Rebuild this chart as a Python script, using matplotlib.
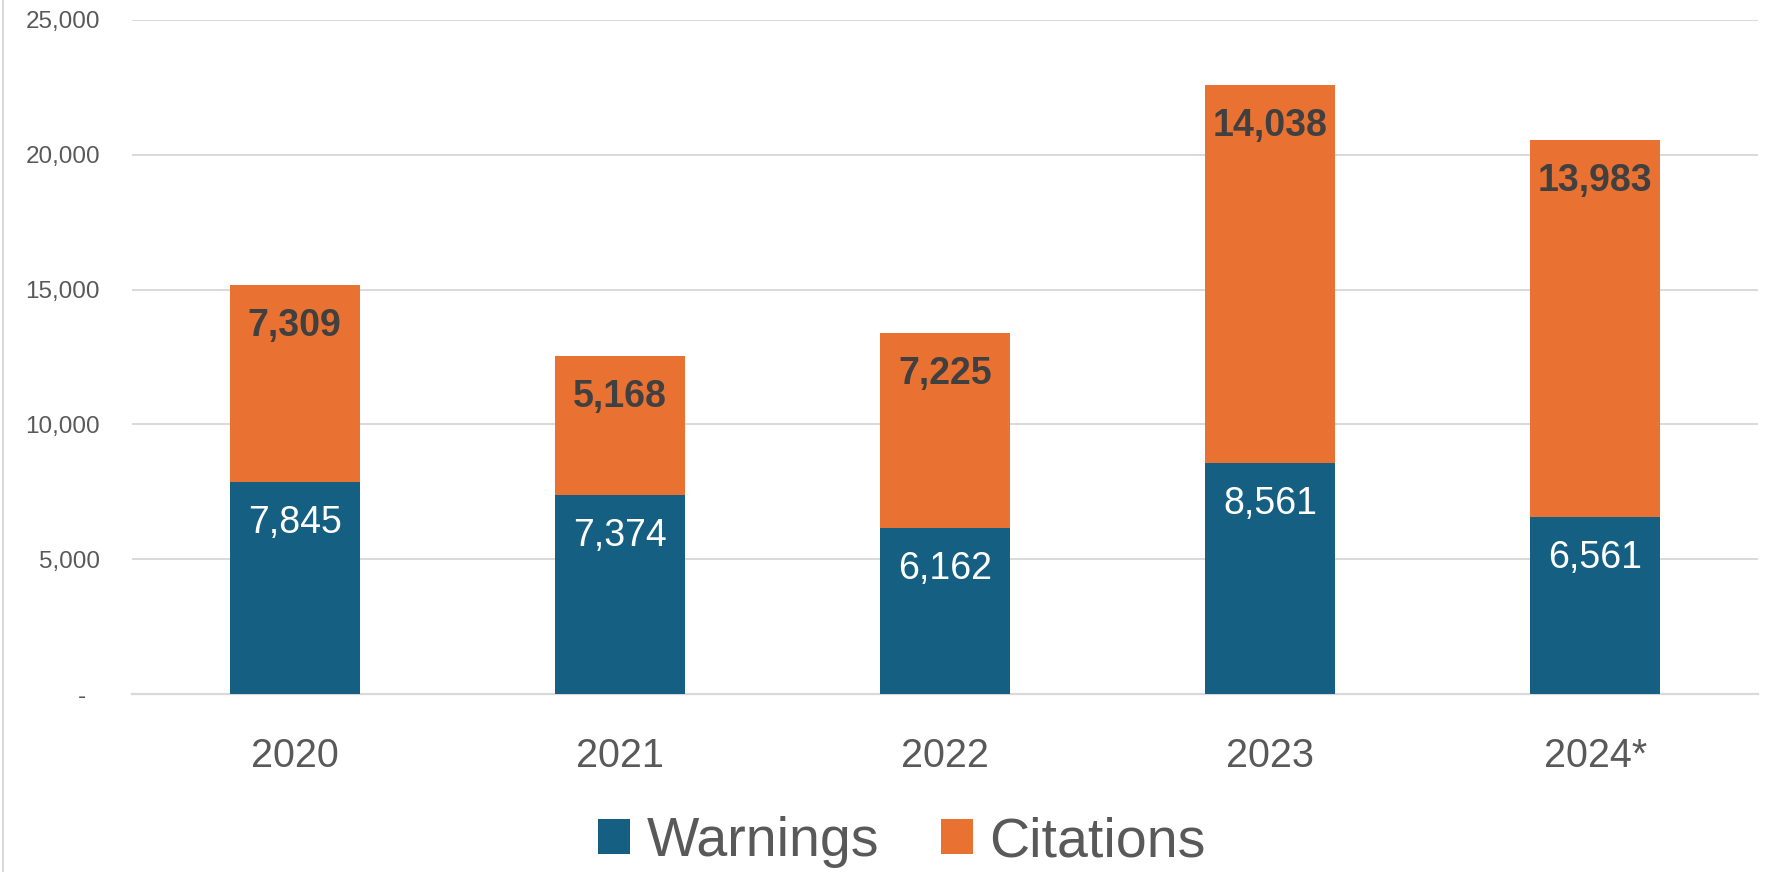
import matplotlib
matplotlib.use("Agg")
import matplotlib.pyplot as plt
from matplotlib.lines import Line2D
from matplotlib.ticker import FuncFormatter
import numpy as np

years = ["2020", "2021", "2022", "2023", "2024*"]
warnings = [7845, 7374, 6162, 8561, 6561]
citations = [7309, 5168, 7225, 14038, 13983]
series_names = ["Warnings", "Citations"]

BLUE = "#156082"
ORANGE = "#E97132"
GRID = "#D9D9D9"
TXT = "#595959"
DARK = "#404040"

plt.rcParams["font.family"] = ["Liberation Sans", "DejaVu Sans"]

W, H, DPI = 1780, 872, 100
fig = plt.figure(figsize=(W / DPI, H / DPI), dpi=DPI)
PX = 72.0 / DPI  # points per pixel

ax = fig.add_axes([132 / W, (H - 694) / H, (1758 - 132) / W, (694 - 20) / H])

x = np.arange(len(years))
bw = 0.4
b1 = ax.bar(x, warnings, bw, color=BLUE, label=series_names[0], zorder=3)
b2 = ax.bar(x, citations, bw, bottom=warnings, color=ORANGE, label=series_names[1], zorder=3)

ax.set_xlim(-0.5, len(years) - 0.5)
ax.set_ylim(0, 25000)
ax.set_yticks(np.arange(0, 25001, 5000))
ax.yaxis.set_major_formatter(FuncFormatter(lambda v, p: "-  " if v == 0 else f"{v:,.0f}"))
ax.set_xticks(x)
ax.set_xticklabels(years)

ax.grid(axis="y", color=GRID, linewidth=1.4, zorder=0)
for s in ["top", "right", "left"]:
    ax.spines[s].set_visible(False)
ax.spines["bottom"].set_color(GRID)
ax.spines["bottom"].set_linewidth(1.6)
ax.spines["bottom"].set_zorder(2)

ax.tick_params(axis="y", length=0, pad=32 * PX, labelsize=17.5, labelcolor=TXT)
ax.tick_params(axis="x", length=0, pad=43 * PX, labelsize=28.5, labelcolor=TXT)

off = -51 * PX
for i in range(len(years)):
    ax.annotate(f"{warnings[i]:,}", xy=(x[i], warnings[i]), xytext=(0, off),
                textcoords="offset points", ha="center", va="baseline",
                fontsize=27, color="white", zorder=5)
    top = warnings[i] + citations[i]
    ax.annotate(f"{citations[i]:,}", xy=(x[i], top), xytext=(0, off),
                textcoords="offset points", ha="center", va="baseline",
                fontsize=27, fontweight="bold", color=DARK, zorder=5)

leg = fig.legend(handles=[b1, b2], labels=series_names, loc="center",
                 bbox_to_anchor=(902 / W, (H - 842) / H), ncol=2, frameon=False,
                 fontsize=40, handlelength=0.58, handleheight=0.58,
                 handletextpad=0.3, columnspacing=1.1, borderpad=0,
                 borderaxespad=0)
for t in leg.get_texts():
    t.set_color(TXT)

fig.add_artist(Line2D([2.5 / W, 2.5 / W], [0, 1], transform=fig.transFigure,
                      color=GRID, linewidth=2.0 * PX))

fig.savefig("out.png", dpi=DPI)
